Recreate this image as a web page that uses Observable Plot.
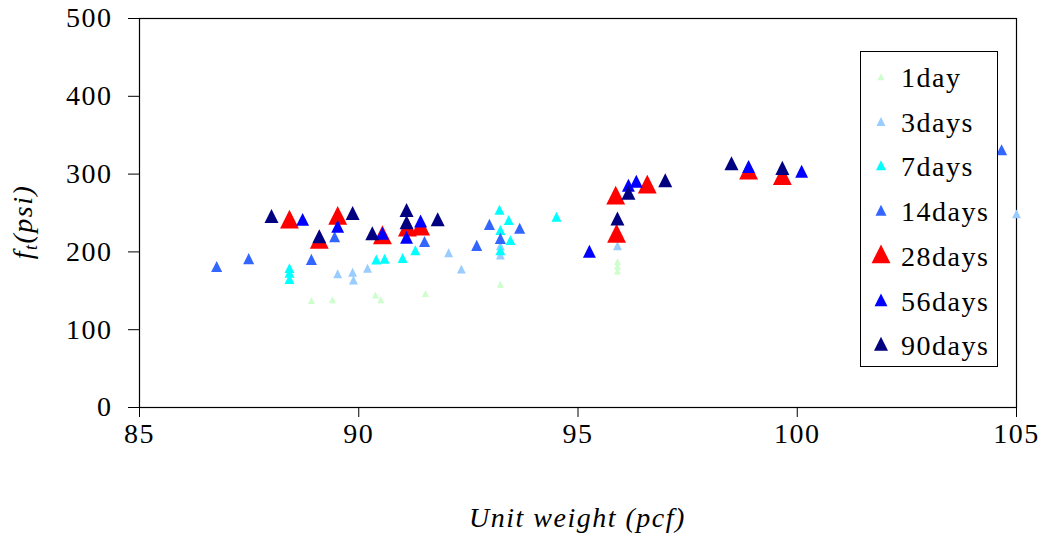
<!DOCTYPE html>
<html><head><meta charset="utf-8">
<script src="https://cdn.jsdelivr.net/npm/d3@7"></script>
<script src="https://cdn.jsdelivr.net/npm/@observablehq/plot@0.6"></script>
<style>
body{margin:0;background:#fff;}
#wrap{position:relative;width:1040px;height:538px;font-family:'Liberation Serif',serif;}
#wrap svg text{font-family:'Liberation Serif',serif;}
#legend{position:absolute;left:860px;top:51px;width:136px;height:314px;border:1px solid #000;background:#fff;font-family:'Liberation Serif',serif;font-size:28px;letter-spacing:1.5px;color:#000;}
.row{position:absolute;left:0;height:40px;display:flex;align-items:center;}
.row svg{display:block;}
</style></head><body><div id="wrap"></div>
<script>
// ---- data ----
const series = ["1day","3days","7days","14days","28days","56days","90days"];
const xTicks = [85, 90, 95, 100, 105];
const yTicks = [0, 100, 200, 300, 400, 500];

const weight1 = [88.92, 89.40, 90.38, 90.50, 91.52, 93.23, 95.90, 95.90, 95.90];
const ft1     = [136, 137, 143, 137, 145, 157, 186, 180, 174];

const weight3 = [89.52, 89.86, 89.88, 90.20, 92.05, 92.34, 93.23, 93.23, 95.90, 105.0];
const ft3     = [170, 172, 162, 177, 197, 176, 206, 194, 206, 247];

const weight7 = [88.42, 88.42, 88.42, 90.40, 90.59, 91.00, 91.29, 93.21, 93.42, 93.23, 93.46, 93.23, 94.51];
const ft7     = [177, 171, 163, 188, 189, 190, 200, 252, 239, 226, 213, 200, 243];

const weight14 = [86.76, 87.49, 88.92, 89.45, 91.50, 92.69, 92.98, 93.23, 93.67, 104.66];
const ft14     = [179, 189, 188, 217, 211, 206, 233, 215, 228, 329];

const weight28 = [88.42, 89.10, 89.52, 90.54, 91.11, 91.41, 95.86, 95.88, 96.58, 98.89, 99.66];
const ft28     = [238, 212, 243, 218, 228, 229, 269, 220, 283, 301, 294];

const weight56 = [88.72, 89.52, 90.54, 91.09, 91.41, 95.26, 96.15, 96.33, 98.89, 100.10];
const ft56     = [239, 230, 221, 216, 237, 198, 283, 288, 307, 301];

const weight90 = [88.01, 89.10, 89.86, 90.31, 91.09, 91.09, 91.80, 95.90, 96.15, 96.99, 98.50, 99.66];
const ft90     = [243, 217, 247, 221, 251, 235, 239, 240, 273, 289, 311, 305];

// ---- styles ----
const colors = ["#ccffcc","#99ccff","#00ffff","#3366ff","#ff0000","#0000ff","#000080"];
const markerR = [2.6, 3.3, 3.7, 4.1, 7.0, 4.8, 5.2];

const weights = [weight1, weight3, weight7, weight14, weight28, weight56, weight90];
const fts = [ft1, ft3, ft7, ft14, ft28, ft56, ft90];
const rows = series.flatMap((s, i) => weights[i].map((w, j) => ({series: s, weight: w, ft: fts[i][j]})));

const font = "'Liberation Serif', serif";

// triangle as tall as it is wide (Excel-style marker)
const tallTriangle = {
  draw(context, size) {
    const w = Math.sqrt(size * 4 / Math.sqrt(3));
    const h = w;
    context.moveTo(0, -2 * h / 3);
    context.lineTo(w / 2, h / 3);
    context.lineTo(-w / 2, h / 3);
    context.closePath();
  }
};

const plot = Plot.plot({
  width: 1040, height: 538,
  marginLeft: 139, marginRight: 24, marginTop: 18, marginBottom: 131,
  style: {fontFamily: font, fontSize: "28px", color: "#000", background: "#fff", letterSpacing: "1.5px"},
  x: {domain: [85, 105]},
  y: {domain: [0, 500]},
  color: {domain: series, range: colors},
  marks: [
    Plot.frame({stroke: "#000", strokeWidth: 1.2}),
    Plot.axisX({ticks: xTicks, tickSize: 10, tickPadding: 6, label: null, tickFormat: d => String(d), fontSize: 28}),
    Plot.axisY({ticks: yTicks, tickSize: 11, tickPadding: 16, label: null, tickFormat: d => String(d), fontSize: 28}),
    ...series.map((s, i) => Plot.dot(rows.filter(d => d.series === s), {
      x: "weight", y: "ft", symbol: tallTriangle, fill: colors[i], r: markerR[i], stroke: "none"
    }))
  ]
});

const wrap = document.getElementById("wrap");
wrap.appendChild(plot);

// axis titles
const svg = d3.select(plot);
const cx = (139 + (1040 - 24)) / 2;
svg.append("text")
  .attr("x", cx).attr("y", 527)
  .attr("text-anchor", "middle")
  .style("font-family", font).attr("font-style", "italic").attr("font-size", 28)
  .attr("letter-spacing", "1.5px").attr("fill", "#000")
  .text("Unit weight (pcf)");
const yt = svg.append("text")
  .attr("transform", "translate(32,222) rotate(-90)")
  .attr("text-anchor", "middle")
  .style("font-family", font).attr("font-style", "italic").attr("font-size", 28)
  .attr("letter-spacing", "1.5px").attr("fill", "#000");
yt.append("tspan").text("f");
yt.append("tspan").attr("font-size", 18).attr("dy", 5).text("t");
yt.append("tspan").attr("dy", -5).text("(psi)");

// legend
const leg = document.createElement("div");
leg.id = "legend";
series.forEach((s, i) => {
  const row = document.createElement("div");
  row.className = "row";
  row.style.top = (6 + i * 44.7) + "px";
  const r = markerR[i];
  const path = d3.symbol(tallTriangle, r * r * Math.PI)();
  row.innerHTML = `<svg width="40" height="40" viewBox="-20 -20 40 40"><path d="${path}" fill="${colors[i]}"/></svg><span>${s}</span>`;
  leg.appendChild(row);
});
wrap.appendChild(leg);
</script>
</body></html>
